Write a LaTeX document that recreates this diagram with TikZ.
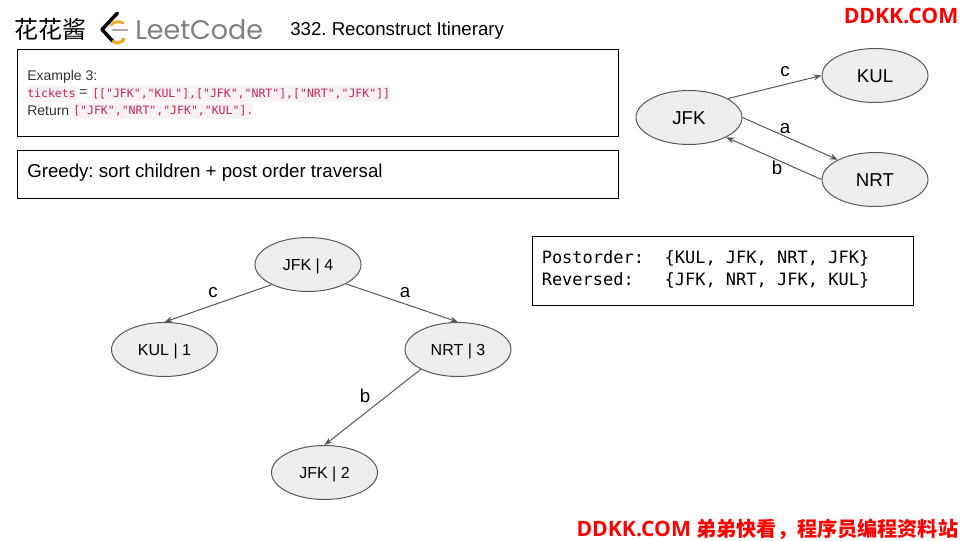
\documentclass[tikz,border=0pt]{standalone}
\usepackage{fontspec}
\setmainfont{Liberation Sans}
\setmonofont{Liberation Mono}
\newfontfamily\cjk{Noto Sans CJK SC}
\newfontfamily\codefont{DejaVu Sans Mono}
\newfontfamily\logofont{Poppins}
\newfontfamily\brandfont{Open Sans}
\usetikzlibrary{shapes.geometric,arrows.meta}
\definecolor{edgegray}{HTML}{595959}
\definecolor{nodefill}{HTML}{EEEEEE}
\definecolor{codered}{HTML}{C7254E}
\definecolor{codebg}{HTML}{F9F2F4}
\definecolor{bodygray}{HTML}{333333}
\definecolor{logoorange}{HTML}{F5A623}
\newcommand{\brandlatin}{\brandfont\bfseries\fontsize{15.9}{18}\selectfont}
\frenchspacing
\tikzset{
  x=0.75pt, y=-0.75pt,
  textbox/.style={draw=black, line width=0.75pt, fill=white},
  airport/.style={ellipse, draw=edgegray, line width=0.75pt, fill=nodefill,
    minimum width=106*0.75pt, minimum height=54*0.75pt, inner sep=0pt,
    text height=10.5pt, text depth=0pt,
    font=\fontsize{14}{16}\selectfont},
  treenode/.style={airport, text height=9pt, text depth=0pt, font=\fontsize{12}{14}\selectfont},
  edgearrow/.style={draw=edgegray, line width=0.75pt, -{Stealth[length=6pt,width=4.5pt]}},
  edgelabel/.style={inner sep=0pt, font=\fontsize{14}{16}\selectfont},
  bodytext/.style={anchor=west, inner sep=0pt, text=bodygray, font=\fontsize{10.5}{12}\selectfont},
  codechip/.style={anchor=west, inner xsep=0pt, inner ysep=0pt, minimum height=12pt,
    fill=codebg, text=codered, font=\codefont\fontsize{8.63}{10}\selectfont},
  headline/.style={anchor=west, inner sep=0pt, font=\fontsize{14}{16}\selectfont},
  monoline/.style={anchor=west, inner sep=0pt, font=\codefont\fontsize{12.75}{16}\selectfont},
  watermark/.style={inner sep=0pt, text=red, font=\brandlatin},
}
\begin{document}
\begin{tikzpicture}
\useasboundingbox (0,0) rectangle (960,540);
\fill[white] (0,0) rectangle (960,540);

% Heading
\node[anchor=west, inner sep=0pt, font=\cjk\fontsize{18}{20}\selectfont] (author) at (14.5,29.5) {花花酱};
\draw[line width=2.6pt, black, line cap=round, line join=round] (117.5,13) -- (102,29.5) -- (113,41.5);
\draw[line width=2.4pt, logoorange, line cap=round] (113,41.5) .. controls (117,44) and (121,43) .. (124,39);
\draw[line width=2.2pt, logoorange, line cap=round] (111,25) .. controls (114,21.5) and (119,20.5) .. (123,23);
\draw[line width=1.7pt, gray!70, line cap=round] (113,30) -- (127,30);
\node[anchor=west, inner sep=0pt, text=gray, font=\logofont\fontsize{20.2}{24}\selectfont] (logo) at (135,30) {LeetCode};
\node[headline] (title) at (290,30.5) {332. Reconstruct Itinerary};
\node[watermark, anchor=east] (brand) at (958.5,16) {DDKK.COM};

% Problem statement
\draw[textbox] (17.5,49.5) rectangle (618.5,136.5);
\node[bodytext] (example) at (27,76.5) {Example 3:};
\node[codechip] (tickets) at (27,93.5) {tickets};
\node[bodytext] (equals) at (79,93.5) {=};
\node[codechip] (input) at (92,93.5) {[["JFK","KUL"],["JFK","NRT"],["NRT","JFK"]]};
\node[bodytext] (return) at (27,110.5) {Return};
\node[codechip] (output) at (73,110.5) {["JFK","NRT","JFK","KUL"].};

% Approach
\draw[textbox] (17.5,150.5) rectangle (618.5,198.5);
\node[headline] (greedy) at (27,172.5) {Greedy: sort children + post order traversal};

% Traversal results
\draw[textbox] (532.5,236.5) rectangle (913.5,305.5);
\node[monoline] (postorder) at (541.5,258.5) {Postorder:\ \ \{KUL, JFK, NRT, JFK\}};
\node[monoline] (reversed) at (541.5,280.5) {Reversed:\ \ \ \{JFK, NRT, JFK, KUL\}};

% Flight graph
\node[airport] (jfk) at (689,117.5) {JFK};
\node[airport] (kul) at (875,75.5) {KUL};
\node[airport] (nrt) at (875,179.5) {NRT};
\draw[edgearrow] (jfk.26) -- (kul.west);
\draw[edgearrow] (jfk.east) -- (nrt.152);
\draw[edgearrow] (nrt.west) -- (jfk.332);
\node[edgelabel] (lc) at (785,72) {c};
\node[edgelabel] (la) at (785,128.5) {a};
\node[edgelabel] (lb) at (777,167.5) {b};

% Traversal tree
\node[treenode] (root) at (308,264.5) {JFK | 4};
\node[treenode] (leaf) at (164.5,349.5) {KUL | 1};
\node[treenode] (mid) at (458,349.5) {NRT | 3};
\node[treenode] (last) at (324.5,472.5) {JFK | 2};
\draw[edgearrow] (root.209) -- (leaf.north);
\draw[edgearrow] (root.333) -- (mid.north);
\draw[edgearrow] (mid.208) -- (last.north);
\node[edgelabel] (tc) at (213,292.5) {c};
\node[edgelabel] (ta) at (405,292.5) {a};
\node[edgelabel] (tb) at (365,396) {b};

% Footer
\node[watermark, anchor=east] (footer) at (958.5,529) {DDKK.COM {\cjk\bfseries\fontsize{15.1}{18}\selectfont 弟弟快看，程序员编程资料站}};
\end{tikzpicture}
\end{document}
